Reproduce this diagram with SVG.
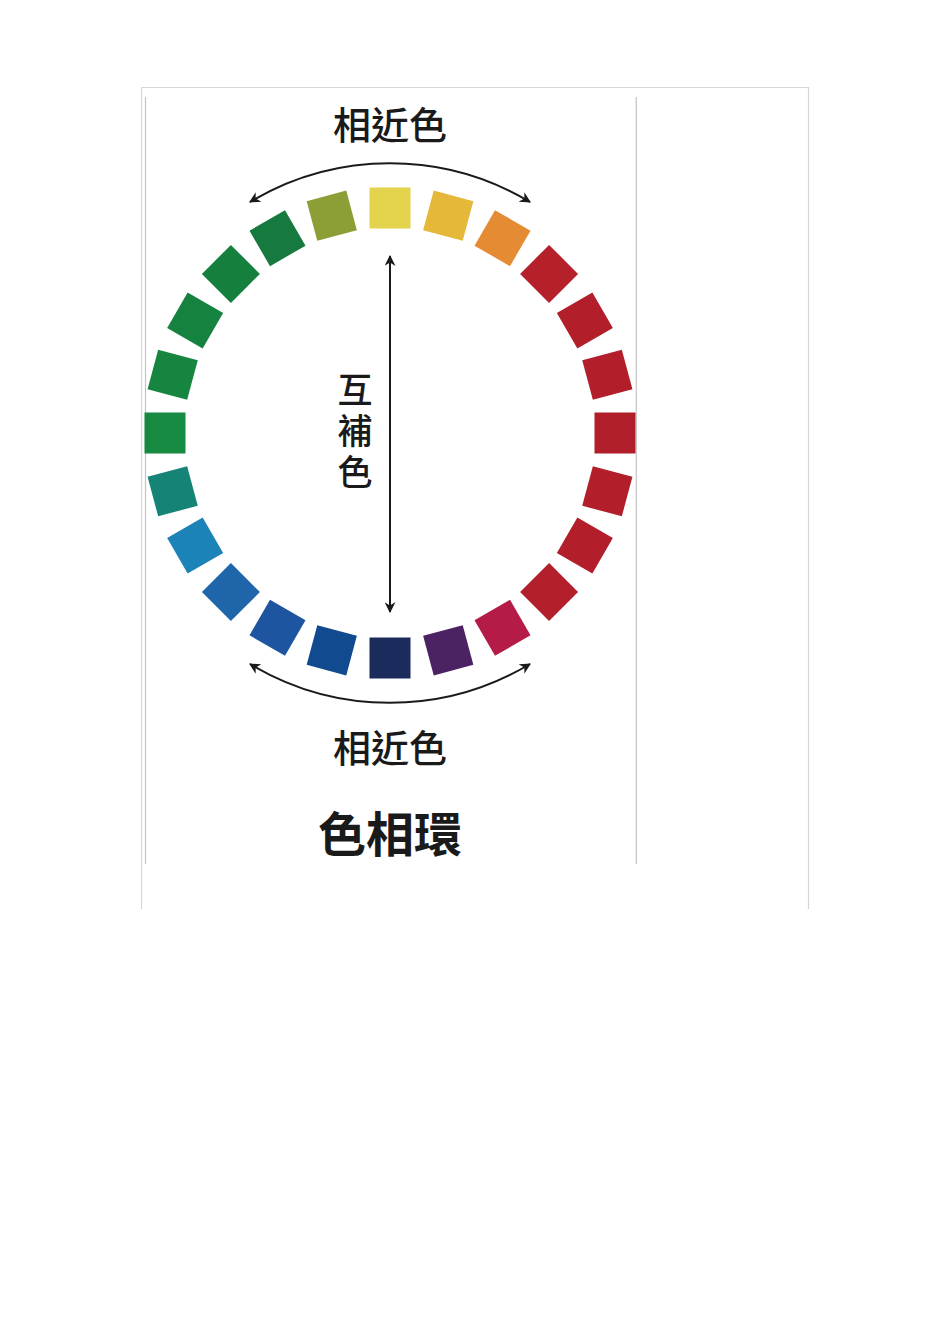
<svg xmlns="http://www.w3.org/2000/svg" width="950" height="1344" viewBox="0 0 950 1344">
<style>
.frame{fill:none;stroke:#d6d6d6;stroke-width:1.2}
.edge{fill:none;stroke:#c4c4c4;stroke-width:1.2}
.sq{stroke:none}
.conn{fill:none;stroke:#1a1a1a;stroke-width:2}
.lbl{font-family:"Noto Sans CJK TC","Noto Sans CJK SC",sans-serif;fill:#1a1a1a;text-anchor:middle}
.vert{font-family:"Noto Sans CJK TC","Noto Sans CJK SC",sans-serif;fill:#1a1a1a;writing-mode:vertical-rl;text-anchor:start}
</style>
<defs>
<marker id="ah" viewBox="0 0 10 10" refX="9" refY="5" markerWidth="5.5" markerHeight="5.5" orient="auto-start-reverse" markerUnits="strokeWidth">
<path d="M0,0 L10,5 L0,10 L3,5 Z" fill="#1a1a1a"/>
</marker>
<rect id="s" x="-20.5" y="-20.5" width="41" height="41"/>
</defs>
<rect width="950" height="1344" fill="#ffffff"/>
<g id="frame">
<path class="frame" d="M141.5,909 V87.5 H808.5 V909"/>
<path class="edge" d="M145.5,97 V864 M636.3,97 V864"/>
</g>
<g id="wheel">
<g transform="translate(390 433)">
<use href="#s" class="sq" fill="#E3D24B" transform="rotate(0) translate(0 -225)"/>
<use href="#s" class="sq" fill="#E6B83A" transform="rotate(15) translate(0 -225)"/>
<use href="#s" class="sq" fill="#E58B33" transform="rotate(30) translate(0 -225)"/>
<use href="#s" class="sq" fill="#B5202B" transform="rotate(45) translate(0 -225)"/>
<use href="#s" class="sq" fill="#B21F2B" transform="rotate(60) translate(0 -225)"/>
<use href="#s" class="sq" fill="#B21F2B" transform="rotate(75) translate(0 -225)"/>
<use href="#s" class="sq" fill="#B01E2A" transform="rotate(90) translate(0 -225)"/>
<use href="#s" class="sq" fill="#B21F2B" transform="rotate(105) translate(0 -225)"/>
<use href="#s" class="sq" fill="#B21F2B" transform="rotate(120) translate(0 -225)"/>
<use href="#s" class="sq" fill="#B31F2B" transform="rotate(135) translate(0 -225)"/>
<use href="#s" class="sq" fill="#B51B47" transform="rotate(150) translate(0 -225)"/>
<use href="#s" class="sq" fill="#4B2262" transform="rotate(165) translate(0 -225)"/>
<use href="#s" class="sq" fill="#1B2B5C" transform="rotate(180) translate(0 -225)"/>
<use href="#s" class="sq" fill="#124A90" transform="rotate(195) translate(0 -225)"/>
<use href="#s" class="sq" fill="#1D55A0" transform="rotate(210) translate(0 -225)"/>
<use href="#s" class="sq" fill="#1E65A9" transform="rotate(225) translate(0 -225)"/>
<use href="#s" class="sq" fill="#1B83B8" transform="rotate(240) translate(0 -225)"/>
<use href="#s" class="sq" fill="#158477" transform="rotate(255) translate(0 -225)"/>
<use href="#s" class="sq" fill="#168A40" transform="rotate(270) translate(0 -225)"/>
<use href="#s" class="sq" fill="#15853F" transform="rotate(285) translate(0 -225)"/>
<use href="#s" class="sq" fill="#15833F" transform="rotate(300) translate(0 -225)"/>
<use href="#s" class="sq" fill="#15803E" transform="rotate(315) translate(0 -225)"/>
<use href="#s" class="sq" fill="#167A3E" transform="rotate(330) translate(0 -225)"/>
<use href="#s" class="sq" fill="#8C9F36" transform="rotate(345) translate(0 -225)"/>
</g>
</g>
<g id="connectors">
<path class="conn" d="M250,202 A272,272 0 0 1 530,202" marker-start="url(#ah)" marker-end="url(#ah)"/>
<path class="conn" d="M250,664 A272,272 0 0 0 530,664" marker-start="url(#ah)" marker-end="url(#ah)"/>
<path class="conn" d="M390,256 V612" marker-start="url(#ah)" marker-end="url(#ah)"/>
</g>
<g id="label-top"><text class="lbl" x="390" y="139" font-size="38" font-weight="500">相近色</text></g>
<g id="label-mid"><text class="vert" x="355" y="372" font-size="35" font-weight="500" letter-spacing="6">互補色</text></g>
<g id="label-bottom"><text class="lbl" x="390" y="762" font-size="38" font-weight="500">相近色</text></g>
<g id="title"><text class="lbl" x="390" y="852" font-size="48" font-weight="700">色相環</text></g>
</svg>
